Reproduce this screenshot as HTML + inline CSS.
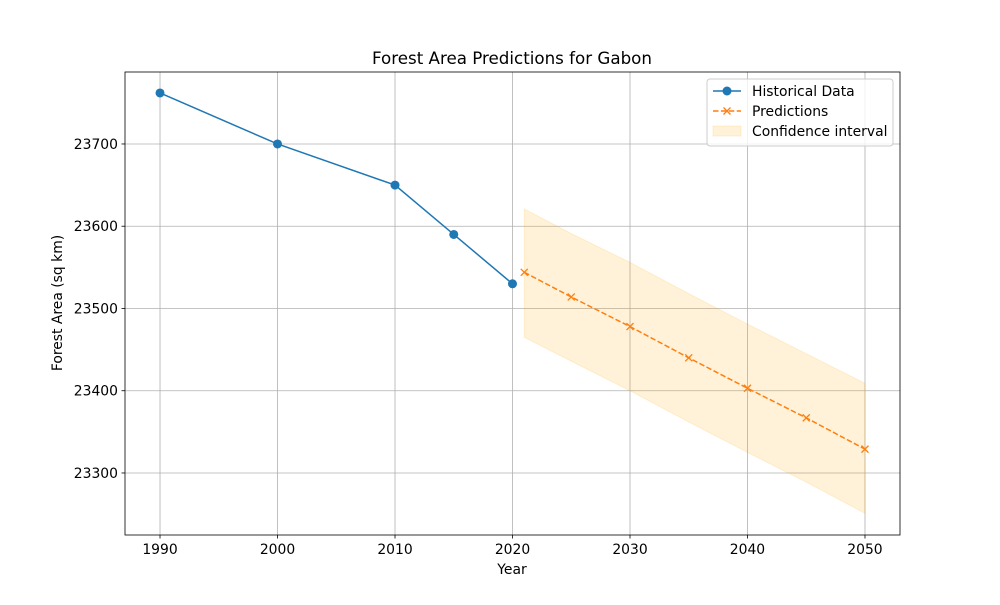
<!DOCTYPE html>
<html><head><meta charset="utf-8"><style>
body{margin:0;background:#fff;font-family:"Liberation Sans","DejaVu Sans",sans-serif}
svg text{font-family:"DejaVu Sans","Liberation Sans",sans-serif}
</style></head><body>
<svg id="chart" width="1000" height="600" xmlns="http://www.w3.org/2000/svg">
<rect width="1000" height="600" fill="#fff"/>
<g id="grid"></g><g id="band"></g><g id="series"></g><g id="axes"></g>
</svg>
<script>
const histYears=[1990,2000,2010,2015,2020];
const histValues=[23762,23700,23650,23590,23530];
const predYears=[2021,2025,2030,2035,2040,2045,2050];
const predValues=[23544,23514,23478,23440,23403,23367,23329];
const ciUpper=[23621,23591,23556,23518,23481,23445,23409];
const ciLower=[23465,23436,23400,23362,23325,23289,23251];
const xTicks=[1990,2000,2010,2020,2030,2040,2050];
const yTicks=[23300,23400,23500,23600,23700];
const L=125,R=900,T=72,B=535,x0=1987.02,x1=2052.98,y0=23224.6,y1=23787.5;
const sx=v=>L+(v-x0)/(x1-x0)*(R-L);
const sy=v=>B-(v-y0)/(y1-y0)*(B-T);
const NS='http://www.w3.org/2000/svg';
function mk(p,t,a){const e=document.createElementNS(NS,t);for(const k in a)e.setAttribute(k,a[k]);p.appendChild(e);return e;}
const svg=document.getElementById('chart'),grid=document.getElementById('grid'),band=document.getElementById('band'),ser=document.getElementById('series'),ax=document.getElementById('axes');
xTicks.forEach(v=>{const X=sx(v);
const g=mk(grid,'line',{x1:X,x2:X,y1:T,y2:B,stroke:'#b0b0b0','stroke-width':0.8});

mk(ax,'line',{x1:X,x2:X,y1:B,y2:B+3.5,stroke:'#000','stroke-width':0.8});
const t=mk(ax,'text',{x:X,y:B+19,'text-anchor':'middle','font-size':13.9});t.textContent=v;
});
yTicks.forEach(v=>{const Y=sy(v);
const g=mk(grid,'line',{x1:L,x2:R,y1:Y,y2:Y,stroke:'#b0b0b0','stroke-width':0.8});

mk(ax,'line',{x1:L-3.5,x2:L,y1:Y,y2:Y,stroke:'#000','stroke-width':0.8});
const t=mk(ax,'text',{x:L-7,y:Y+5,'text-anchor':'end','font-size':13.9});t.textContent=v;
});
let pts=predYears.map((y,i)=>sx(y)+','+sy(ciUpper[i]));
for(let i=predYears.length-1;i>=0;i--)pts.push(sx(predYears[i])+','+sy(ciLower[i]));
const poly=mk(band,'polygon',{points:pts.join(' '),fill:'#ffa500','fill-opacity':0.15,stroke:'#ffa500','stroke-opacity':0.15});

const hl=mk(ser,'polyline',{points:histYears.map((y,i)=>sx(y)+','+sy(histValues[i])).join(' '),fill:'none',stroke:'#1f77b4','stroke-width':1.5});

histYears.forEach((y,i)=>{const c=mk(ser,'circle',{cx:sx(y),cy:sy(histValues[i]),r:4.5,fill:'#1f77b4'});
});
const pl=mk(ser,'polyline',{points:predYears.map((y,i)=>sx(y)+','+sy(predValues[i])).join(' '),fill:'none',stroke:'#ff7f0e','stroke-width':1.5,'stroke-dasharray':'5.5,2.4'});

predYears.forEach((y,i)=>{const X=sx(y),Y=sy(predValues[i]),d=3.5;
const m=mk(ser,'path',{d:`M${X-d},${Y-d}L${X+d},${Y+d}M${X-d},${Y+d}L${X+d},${Y-d}`,stroke:'#ff7f0e','stroke-width':1.3});
});
const fr=mk(ax,'rect',{x:L,y:T,width:R-L,height:B-T,fill:'none',stroke:'#000','stroke-width':0.8});

let t=mk(ax,'text',{x:512,y:64,'text-anchor':'middle','font-size':16.7});t.textContent='Forest Area Predictions for Gabon';

t=mk(ax,'text',{x:512,y:574,'text-anchor':'middle','font-size':13.9});t.textContent='Year';

t=mk(ax,'text',{x:0,y:0,'text-anchor':'middle','font-size':13.9,transform:'translate(62,303) rotate(-90)'});t.textContent='Forest Area (sq km)';

const lg=mk(ax,'g',{});
mk(lg,'rect',{x:707,y:79,width:186,height:67,rx:3,fill:'#fff','fill-opacity':0.8,stroke:'#ccc'});
mk(lg,'line',{x1:713,x2:741,y1:91,y2:91,stroke:'#1f77b4','stroke-width':1.5});
mk(lg,'circle',{cx:727,cy:91,r:4.5,fill:'#1f77b4'});
mk(lg,'line',{x1:713,x2:741,y1:111,y2:111,stroke:'#ff7f0e','stroke-width':1.5,'stroke-dasharray':'5.5,2.4'});
mk(lg,'path',{d:'M723.5,107.5L730.5,114.5M723.5,114.5L730.5,107.5',stroke:'#ff7f0e','stroke-width':1.3});
mk(lg,'rect',{x:713,y:126,width:28,height:10,fill:'#ffa500','fill-opacity':0.15,stroke:'#ffa500','stroke-opacity':0.15});
[['Historical Data',96],['Predictions',116],['Confidence interval',136]].forEach(([s,y])=>{const e=mk(lg,'text',{x:752,y:y,'font-size':13.9});e.textContent=s;
});
</script>
</body></html>
